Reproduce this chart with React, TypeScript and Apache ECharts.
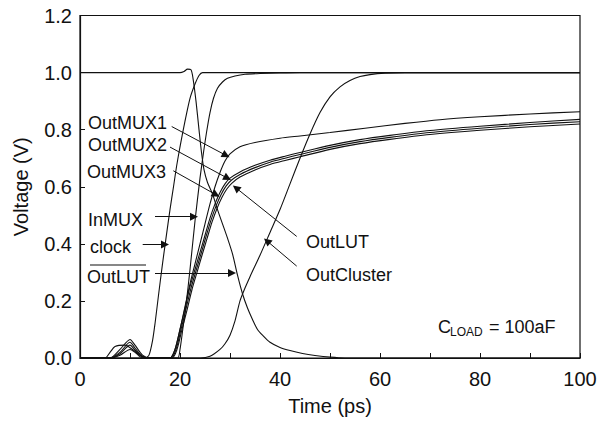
import React, { useEffect, useRef } from "react";
import * as echarts from "echarts";

// ---- data (time in ps, voltage in V) ----
const clock: number[][] = [
  [0, 0], [13, 0], [13.8, 0.01], [14.5, 0.06], [15, 0.12], [15.7, 0.22], [16.5, 0.33], [17.2, 0.42],
  [18, 0.52], [18.7, 0.6], [19.3, 0.67], [20, 0.74], [21, 0.83], [22, 0.91], [23, 0.96], [23.8, 0.99],
  [24.5, 1.0], [100, 1.0],
];
const inMux: number[][] = [
  [0, 0], [5, 0], [6, 0.02], [7, 0.04], [9, 0.045], [10.5, 0.03], [12, 0.01], [14, 0], [19.5, 0],
  [20, 0.03], [20.7, 0.12], [21.3, 0.2], [22, 0.31], [23, 0.48], [24, 0.63], [24.7, 0.72], [25.3, 0.79],
  [26, 0.86], [26.7, 0.91], [27.5, 0.945], [28.5, 0.967], [29.5, 0.98], [31, 0.988], [33, 0.994],
  [36, 0.997], [40, 0.999], [44, 1.0], [100, 1.0],
];
const outLutBar: number[][] = [
  [0, 1], [20, 1], [20.8, 1.004], [21.5, 1.012], [22.2, 1.01], [22.6, 0.98], [23.2, 0.9], [23.8, 0.8],
  [24.3, 0.72], [24.8, 0.66], [25.5, 0.615], [26.5, 0.575], [27.5, 0.52], [28.5, 0.47], [29.5, 0.42],
  [30.5, 0.365], [31.5, 0.29], [32.5, 0.225], [33.5, 0.175], [34.5, 0.135], [35.5, 0.1], [36.5, 0.08],
  [38, 0.055], [40, 0.037], [42, 0.026], [44.5, 0.016], [47, 0.009], [50, 0.003], [53, 0], [100, 0],
];
const outCluster: number[][] = [
  [0, 0], [6, 0], [8, -0.01], [10, -0.02], [12, -0.012], [14, 0], [24, 0], [26, 0.006], [28, 0.03],
  [29, 0.05], [30, 0.08], [31, 0.13], [32, 0.2], [33, 0.245], [34, 0.285], [36, 0.36], [38, 0.44],
  [40, 0.52], [42, 0.61], [44, 0.7], [46, 0.785], [48, 0.86], [50, 0.915], [52, 0.95], [54, 0.972],
  [56, 0.986], [58, 0.993], [61, 0.998], [65, 1.0], [100, 1.0],
];
const outMux1: number[][] = [
  [0, 0], [6, 0], [8, 0.03], [10, 0.065], [11, 0.045], [12.5, 0.01], [14, 0], [18, 0], [19, 0.03],
  [20, 0.1], [21, 0.18], [22, 0.26], [23, 0.33], [24, 0.4], [25, 0.47], [26, 0.54], [27, 0.6], [28, 0.65],
  [29, 0.69], [30, 0.715], [32, 0.74], [35, 0.755], [40, 0.77], [44, 0.778], [50, 0.79], [57, 0.805],
  [65, 0.822], [72, 0.835], [80, 0.845], [90, 0.855], [100, 0.863],
];
const outMux2: number[][] = [
  [0, 0], [6, 0], [8, 0.02], [10, 0.055], [11, 0.035], [12.5, 0.005], [14, 0], [18, 0], [19, 0.03],
  [20, 0.1], [21, 0.175], [22, 0.25], [23, 0.31], [24, 0.37], [25, 0.43], [26, 0.49], [27, 0.54],
  [28, 0.58], [29, 0.61], [30, 0.63], [32, 0.652], [35, 0.675], [38, 0.693], [41, 0.707], [44, 0.72],
  [50, 0.745], [56, 0.765], [62, 0.78], [70, 0.797], [80, 0.812], [90, 0.825], [100, 0.836],
];
const outMux3: number[][] = [
  [0, 0], [6, 0], [8, 0.015], [10, 0.045], [11, 0.028], [12.5, 0.003], [14, 0], [18.2, 0], [19.2, 0.03],
  [20.2, 0.1], [21.2, 0.172], [22.2, 0.245], [23.2, 0.305], [24.2, 0.365], [25.2, 0.425], [26.2, 0.483],
  [27.2, 0.532], [28.2, 0.572], [29.2, 0.602], [30.2, 0.622], [32, 0.643], [35, 0.667], [38, 0.686],
  [41, 0.7], [44, 0.713], [50, 0.738], [56, 0.758], [62, 0.773], [70, 0.79], [80, 0.805], [90, 0.818],
  [100, 0.828],
];
const outLut: number[][] = [
  [0, 0], [6, 0], [8, 0.01], [10, 0.03], [11, 0.02], [12.5, 0], [14, 0], [18.4, 0], [19.4, 0.03],
  [20.4, 0.1], [21.4, 0.168], [22.4, 0.24], [23.4, 0.3], [24.4, 0.36], [25.4, 0.418], [26.4, 0.476],
  [27.4, 0.524], [28.4, 0.563], [29.4, 0.593], [30.4, 0.613], [32, 0.634], [35, 0.659], [38, 0.678],
  [41, 0.692], [44, 0.705], [50, 0.731], [56, 0.751], [62, 0.766], [70, 0.783], [80, 0.798], [90, 0.81],
  [100, 0.82],
];

// annotation arrows: [fromTime, fromV, toTime, toV]
const arrowCoords: number[][] = [
  [18.34, 0.811, 29.2, 0.71],
  [18.0, 0.739, 29.5, 0.63],
  [18.66, 0.656, 27.2, 0.572],
  [15, 0.495, 22.8, 0.495],
  [12.54, 0.398, 17.0, 0.398],
  [15, 0.298, 30.4, 0.298],
  [43.34, 0.426, 31.2, 0.596],
  [43.34, 0.322, 37.4, 0.41],
];
// annotation labels (pixel placement)
const labelTexts = ["OutMUX1", "OutMUX2", "OutMUX3", "InMUX", "clock", "OutLUT", "OutLUT", "OutCluster"];
const labelPos: number[][] = [
  [88, 123], [88, 144.5], [87, 171.7], [88, 220], [90, 246.7], [87, 277], [306, 241.7], [306, 275],
];

export default function App() {
  const ref = useRef<HTMLDivElement>(null);
  useEffect(() => {
    const chart = echarts.init(ref.current!, null, { renderer: "svg" });
    const font = "'Liberation Sans', Arial, Helvetica, sans-serif";
    const mk = (name: string, data: number[][], extra: any = {}) => ({
      type: "line",
      name,
      data,
      symbol: "none",
      showSymbol: false,
      smooth: 0.25,
      lineStyle: { color: "#111", width: 1.1 },
      silent: true,
      z: 3,
      ...extra,
    });
    const graphic: any[] = labelTexts.map((t, i) => ({
      type: "text",
      x: labelPos[i][0],
      y: labelPos[i][1],
      style: { text: t, fontSize: 18, fontFamily: font, fill: "#111", align: "left", verticalAlign: "middle" },
    }));
    graphic.push({
      type: "line",
      shape: { x1: 90, y1: 265, x2: 146, y2: 265 },
      style: { stroke: "#111", lineWidth: 1.2 },
    });
    graphic.push(
      { type: "text", x: 438, y: 327, style: { text: "C", fontSize: 18, fontFamily: font, fill: "#111", align: "left", verticalAlign: "middle" } },
      { type: "text", x: 450, y: 332, style: { text: "LOAD", fontSize: 12, fontFamily: font, fill: "#111", align: "left", verticalAlign: "middle" } },
      { type: "text", x: 489, y: 327, style: { text: "= 100aF", fontSize: 18, fontFamily: font, fill: "#111", align: "left", verticalAlign: "middle" } }
    );
    chart.setOption({
      animation: false,
      grid: { left: 80, right: 23, top: 15.5, bottom: 57.5, show: true, borderColor: "#111", borderWidth: 1.2, backgroundColor: "transparent" },
      xAxis: {
        type: "value", min: 0, max: 100, interval: 10,
        axisLine: { lineStyle: { color: "#111", width: 1.2 } },
        axisTick: { inside: true, length: 5, lineStyle: { color: "#111" } },
        splitLine: { show: false },
        axisLabel: { formatter: (v: number) => (v % 20 === 0 ? String(v) : ""), color: "#111", fontSize: 20, fontFamily: font, margin: 11 },
        name: "Time (ps)", nameLocation: "middle", nameGap: 38,
        nameTextStyle: { color: "#111", fontSize: 20, fontFamily: font },
      },
      yAxis: {
        type: "value", min: 0, max: 1.2, interval: 0.2,
        axisLine: { show: true, lineStyle: { color: "#111", width: 1.2 } },
        axisTick: { show: true, inside: true, length: 5, lineStyle: { color: "#111" } },
        splitLine: { show: false },
        axisLabel: { formatter: (v: number) => v.toFixed(1), color: "#111", fontSize: 20, fontFamily: font, margin: 8 },
        name: "Voltage (V)", nameLocation: "middle", nameGap: 49,
        nameTextStyle: { color: "#111", fontSize: 20, fontFamily: font },
      },
      series: [
        mk("clock", clock),
        mk("InMUX", inMux),
        mk("OutLUT_bar", outLutBar),
        mk("OutMUX1", outMux1),
        mk("OutMUX2", outMux2),
        mk("OutMUX3", outMux3),
        mk("OutLUT", outLut),
        mk("OutCluster", outCluster, {
          markLine: {
            silent: true,
            symbol: ["none", "triangle"],
            symbolSize: 8,
            lineStyle: { color: "#111", width: 1, type: "solid" },
            label: { show: false },
            emphasis: { disabled: true },
            animation: false,
            data: arrowCoords.map((a) => [{ coord: [a[0], a[1]] }, { coord: [a[2], a[3]] }]),
          },
        }),
      ],
      graphic,
    });
    return () => chart.dispose();
  }, []);
  return <div ref={ref} style={{ position: "absolute", left: 0, top: 0, width: 603, height: 421, background: "#fff" }} />;
}
